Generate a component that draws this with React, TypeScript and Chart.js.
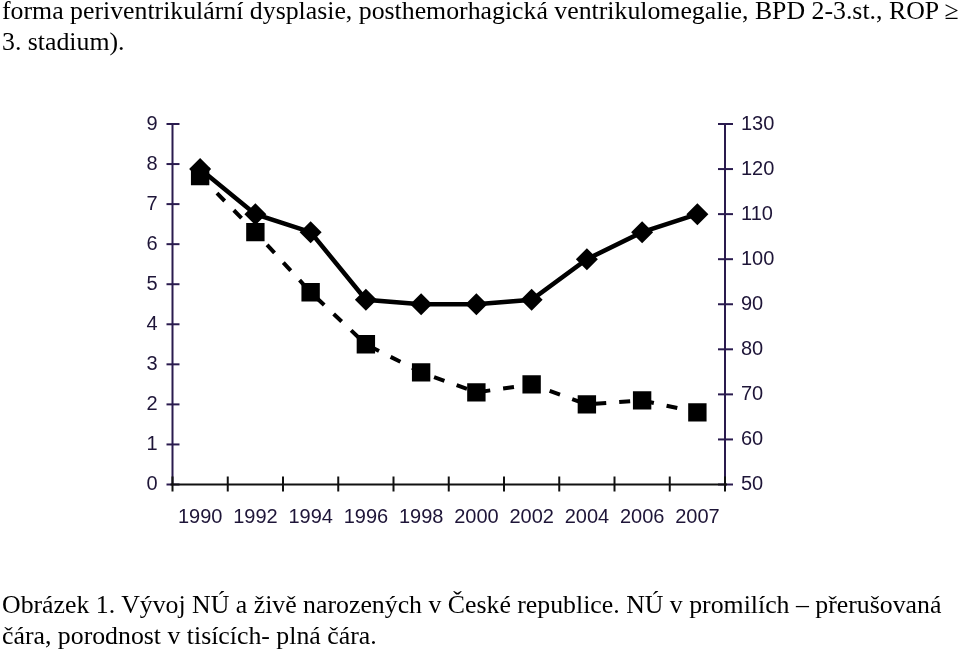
import React, { useEffect, useRef } from 'react';
import { Chart, registerables } from 'chart.js';

Chart.register(...registerables);

const years = ['1990', '1992', '1994', '1996', '1998', '2000', '2002', '2004', '2006', '2007'];
const nuPromile = [7.7, 6.3, 4.8, 3.5, 2.8, 2.3, 2.5, 2.0, 2.1, 1.8];
const birthsThousands = [120, 110, 106, 91, 90, 90, 91, 100, 106, 110];

const topLines = [
  'forma periventrikulární dysplasie, posthemorhagická ventrikulomegalie, BPD 2-3.st., ROP \u2265',
  '3. stadium).',
];
const captionLines = [
  'Obrázek 1. Vývoj NÚ a živě narozených v České republice. NÚ v promilích \u2013 přerušovaná',
  'čára, porodnost v tisících- plná čára.',
];

const AXIS = '#2a1b4e';
const LABEL = '#1e1538';
const TICK_FONT = { family: "'Liberation Sans', Arial, sans-serif", size: 20 };

const axesPlugin = {
  id: 'customAxes',
  afterDraw(chart: any) {
    const { ctx, chartArea: a, scales } = chart;
    const line = (x1: number, y1: number, x2: number, y2: number) => {
      ctx.beginPath();
      ctx.moveTo(x1, y1);
      ctx.lineTo(x2, y2);
      ctx.stroke();
    };
    ctx.save();
    ctx.lineWidth = 2;
    ctx.strokeStyle = AXIS;
    const y = scales.y;
    const y1 = scales.y1;
    const x = scales.x;
    line(a.left, y.getPixelForValue(9), a.left, a.bottom);
    y.ticks.forEach((t: any) => {
      const py = y.getPixelForValue(t.value);
      line(a.left - 6, py, a.left + 7, py);
    });
    line(a.right, y1.getPixelForValue(130), a.right, a.bottom);
    y1.ticks.forEach((t: any) => {
      const py = y1.getPixelForValue(t.value);
      line(a.right - 7, py, a.right + 8, py);
    });
    ctx.strokeStyle = '#111';
    line(a.left - 2, a.bottom, a.right + 2, a.bottom);
    for (let i = 0; i <= years.length; i++) {
      const px = x.getPixelForValue(i - 0.5);
      line(px, a.bottom - 8, px, a.bottom + 7);
    }
    ctx.restore();
  },
};

export default function App() {
  const ref = useRef<HTMLCanvasElement | null>(null);

  useEffect(() => {
    if (!ref.current) return;
    const chart = new Chart(ref.current, {
      type: 'line',
      data: {
        labels: years,
        datasets: [
          {
            label: 'porodnost v tisících',
            data: birthsThousands,
            yAxisID: 'y1',
            borderColor: '#000',
            backgroundColor: '#000',
            borderWidth: 4.5,
            pointStyle: 'rectRot',
            pointRadius: 11,
            pointBorderWidth: 0,
            pointBackgroundColor: '#000',
            tension: 0,
            order: 0,
          },
          {
            label: 'NÚ v promilích',
            data: nuPromile,
            yAxisID: 'y',
            borderColor: '#000',
            backgroundColor: '#000',
            borderWidth: 4,
            borderDash: [11, 13],
            pointStyle: 'rect',
            pointRadius: 13,
            pointBorderWidth: 0,
            pointBackgroundColor: '#000',
            tension: 0,
            order: 1,
          },
        ],
      },
      options: {
        animation: false,
        responsive: true,
        maintainAspectRatio: false,
        layout: { padding: { top: 124, left: 0, right: 0, bottom: 0 } },
        plugins: { legend: { display: false }, tooltip: { enabled: false } },
        scales: {
          x: {
            offset: true,
            grid: { display: false, drawTicks: false },
            border: { display: false },
            ticks: { font: TICK_FONT, color: LABEL, padding: 21, maxRotation: 0, autoSkip: false },
            afterFit(s: any) {
              s.height = 653 - 484.5;
            },
          },
          y: {
            position: 'left',
            min: 0,
            max: 9,
            grid: { display: false, drawTicks: false },
            border: { display: false },
            ticks: { stepSize: 1, font: TICK_FONT, color: LABEL, padding: 15 },
            afterFit(s: any) {
              s.width = 172.5;
            },
          },
          y1: {
            position: 'right',
            min: 50,
            max: 130,
            grid: { display: false, drawTicks: false },
            border: { display: false },
            ticks: { stepSize: 10, font: TICK_FONT, color: LABEL, padding: 16 },
            afterFit(s: any) {
              s.width = 960 - 725;
            },
          },
        },
      },
      plugins: [axesPlugin],
    });
    return () => chart.destroy();
  }, []);

  const serif: React.CSSProperties = {
    position: 'absolute',
    left: 2,
    fontFamily: "'Liberation Serif', 'Times New Roman', serif",
    fontSize: 25.8,
    lineHeight: '31px',
    color: '#000',
    whiteSpace: 'pre',
    margin: 0,
  };

  return (
    <div style={{ position: 'absolute', left: 0, top: 0, width: 960, height: 653, background: '#fff', overflow: 'hidden' }}>
      <canvas ref={ref} style={{ position: 'absolute', left: 0, top: 0 }} />
      <div style={{ ...serif, top: -5 }}>
        {topLines.map((l, i) => (
          <div key={i}>{l}</div>
        ))}
      </div>
      <div style={{ ...serif, top: 588.5 }}>
        {captionLines.map((l, i) => (
          <div key={i}>{l}</div>
        ))}
      </div>
    </div>
  );
}
